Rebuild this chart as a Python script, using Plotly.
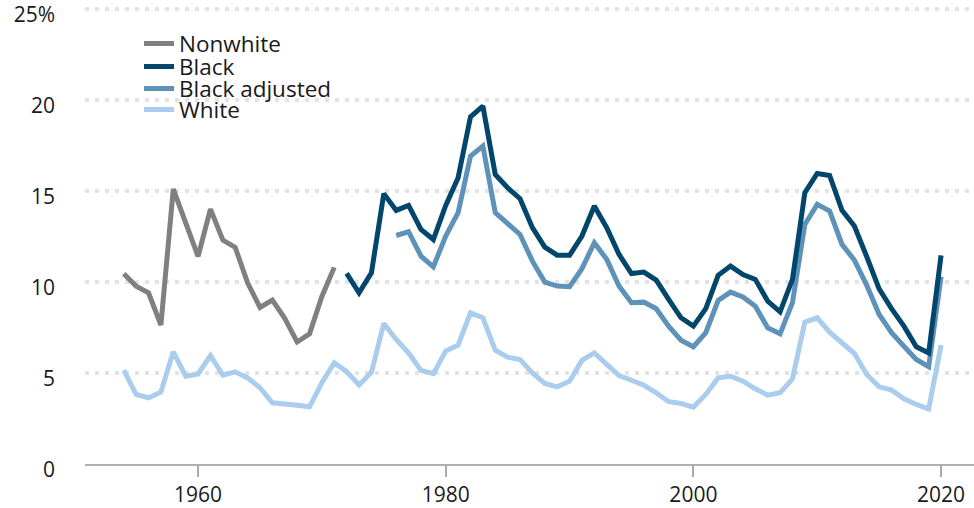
import plotly.graph_objects as go

nonwhite_years = list(range(1954, 1972))
nonwhite = [10.45, 9.77, 9.4, 7.63, 15.1, 13.2, 11.4, 14.0, 12.3, 11.9,
            9.95, 8.6, 9.0, 8.0, 6.7, 7.15, 9.2, 10.8]

black_years = list(range(1972, 2021))
black = [10.47, 9.4, 10.5, 14.85, 13.93, 14.2, 12.88, 12.33, 14.2, 15.72,
         19.07, 19.66, 15.9, 15.17, 14.57, 12.98, 11.91, 11.47, 11.46, 12.52,
         14.17, 12.98, 11.51, 10.46, 10.54, 10.1, 9.04, 8.03, 7.57, 8.53,
         10.36, 10.87, 10.41, 10.14, 8.95, 8.36, 10.14, 14.9, 15.96, 15.85,
         13.93, 13.07, 11.38, 9.62, 8.53, 7.57, 6.44, 6.1, 11.46]

black_adj_years = list(range(1976, 2021))
black_adj = [12.55, 12.76, 11.42, 10.83, 12.52, 13.8, 16.91, 17.46, 13.8, 13.21,
             12.61, 11.14, 9.99, 9.77, 9.74, 10.73, 12.15, 11.24, 9.77, 8.86,
             8.89, 8.53, 7.57, 6.8, 6.44, 7.21, 8.98, 9.44, 9.17, 8.67,
             7.48, 7.15, 8.86, 13.16, 14.26, 13.89, 12.06, 11.2, 9.81, 8.21,
             7.21, 6.47, 5.74, 5.34, 10.29]

white_years = list(range(1954, 2021))
white = [5.15, 3.82, 3.63, 3.95, 6.16, 4.82, 4.95, 5.96, 4.88, 5.06,
         4.73, 4.19, 3.36, 3.32, 3.23, 3.14, 4.46, 5.56, 5.07, 4.34,
         5.04, 7.72, 6.84, 6.1, 5.14, 4.96, 6.2, 6.53, 8.3, 8.03,
         6.25, 5.87, 5.74, 5.0, 4.42, 4.24, 4.55, 5.69, 6.1, 5.47,
         4.86, 4.6, 4.33, 3.91, 3.42, 3.32, 3.12, 3.82, 4.73, 4.82,
         4.55, 4.13, 3.78, 3.91, 4.68, 7.79, 8.03, 7.24, 6.66, 6.07,
         4.92, 4.24, 4.06, 3.58, 3.27, 3.03, 6.53]

y_tickvals = [0, 5, 10, 15, 20, 25]
y_ticktext = ["0", "5", "10", "15", "20", "25%"]
x_tickvals = [1960, 1980, 2000, 2020]

FONT = "Open Sans"
TEXT = "#1a1a1a"

series = [
    ("Nonwhite", nonwhite_years, nonwhite, "#808080", "legend"),
    ("Black", black_years, black, "#02466b", "legend2"),
    ("Black adjusted", black_adj_years, black_adj, "#5f92b8", "legend3"),
    ("White", white_years, white, "#aacdee", "legend4"),
]

fig = go.Figure()
# draw White first so it sits underneath
for idx in (3, 0, 2, 1):
    name, xs, ys, col, lg = series[idx]
    fig.add_trace(go.Scatter(x=xs, y=ys, name=name, mode="lines",
                             line=dict(color=col, width=5), legend=lg))

W, H = 974, 508
L, R, B = 85, 0, 44
Y_TOP = 25.1
UNIT = 18.2
ph = Y_TOP * UNIT
T = H - B - ph
pw = W - L - R

def px_x(p):
    return (p - L) / pw

def px_y(p):
    return (H - B - p) / ph

legend_rows = [("legend", 44), ("legend2", 67), ("legend3", 89), ("legend4", 110)]
layout_legends = {}
for lg, yc in legend_rows:
    layout_legends[lg] = dict(x=px_x(139), y=px_y(yc), xanchor="left", yanchor="middle",
                              bgcolor="rgba(0,0,0,0)", borderwidth=0,
                              font=dict(family=FONT, size=22.5, color=TEXT),
                              itemwidth=30)

fig.update_layout(
    width=W, height=H,
    margin=dict(l=L, r=R, t=T, b=B, autoexpand=False),
    plot_bgcolor="white", paper_bgcolor="white",
    font=dict(family=FONT, size=21, color=TEXT),
    showlegend=True,
    **layout_legends,
)
fig.update_xaxes(
    range=[1950.87, 2022.66], tickvals=x_tickvals, ticks="outside", ticklen=11,
    tickcolor="#aaaaaa", tickwidth=1.5, showline=True, linecolor="#b0b0b0", linewidth=2,
    showgrid=False, zeroline=False, tickfont=dict(size=21, family=FONT, color=TEXT),
    ticklabeloverflow="allow", automargin=False,
)
fig.update_yaxes(
    range=[0, Y_TOP], tickvals=y_tickvals, ticktext=y_ticktext, showgrid=True,
    gridcolor="#e3e3e3", gridwidth=4, griddash="4px,6px", zeroline=False,
    ticks="", ticklabelstandoff=29, ticklabelshift=6,
    tickfont=dict(size=21, family=FONT, color=TEXT),
    ticklabeloverflow="allow", automargin=False,
)

fig.write_html("out.html", config={"displayModeBar": False},
               post_script="document.body.style.margin='0';")
